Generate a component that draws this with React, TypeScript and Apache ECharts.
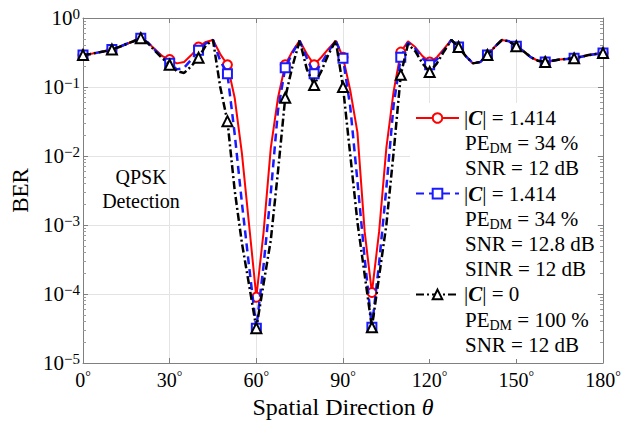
import React, { useEffect, useRef } from 'react';
import * as echarts from 'echarts';

// Spatial direction (degrees); markers drawn every 10 degrees
const angles = [
  0, 2.5, 5, 7.5, 10, 12.5, 15, 17.5, 20, 22.5, 25, 27.5, 30, 32.5, 35, 37.5, 40, 42.5, 45, 47.5,
  50, 52.5, 55, 57.5, 60, 62.5, 65, 67.5, 70, 72.5, 75, 77.5, 80, 82.5, 85, 87.5, 90, 92.5, 95, 97.5,
  100, 102.5, 105, 107.5, 110, 112.5, 115, 117.5, 120, 122.5, 125, 127.5, 130, 132.5, 135, 137.5,
  140, 142.5, 145, 147.5, 150, 152.5, 155, 157.5, 160, 162.5, 165, 167.5, 170, 172.5, 175, 177.5, 180,
];

// |C| = 1.414, PE_DM = 34 %, SNR = 12 dB
const berC1414 = [
  0.29, 0.3, 0.315, 0.33, 0.35, 0.38, 0.42, 0.46, 0.51, 0.44, 0.35, 0.28, 0.25, 0.22, 0.23, 0.29, 0.38, 0.45, 0.48, 0.3,
  0.21, 0.07, 0.011, 0.001, 0.00009, 0.00078, 0.013, 0.07, 0.21, 0.33, 0.47, 0.3, 0.21, 0.27, 0.36, 0.47, 0.27, 0.09, 0.022, 0.0008,
  0.000105, 0.0008, 0.013, 0.085, 0.32, 0.46, 0.38, 0.28, 0.23, 0.27, 0.36, 0.48, 0.38, 0.28, 0.22, 0.23,
  0.29, 0.38, 0.48, 0.46, 0.39, 0.33, 0.27, 0.24, 0.23, 0.24, 0.25, 0.255, 0.26, 0.275, 0.29, 0.3, 0.31,
];

// |C| = 1.414, PE_DM = 34 %, SNR = 12.8 dB, SINR = 12 dB
const berC1414Sinr = [
  0.29, 0.3, 0.315, 0.33, 0.35, 0.38, 0.42, 0.46, 0.51, 0.44, 0.34, 0.27, 0.22, 0.18, 0.19, 0.25, 0.34, 0.43, 0.48, 0.24,
  0.155, 0.021, 0.0021, 0.00025, 0.000032, 0.00026, 0.0029, 0.046, 0.19, 0.31, 0.47, 0.26, 0.155, 0.22, 0.33, 0.47, 0.26, 0.052, 0.0043, 0.00033,
  0.000033, 0.00028, 0.0034, 0.054, 0.27, 0.44, 0.36, 0.26, 0.21, 0.25, 0.34, 0.48, 0.38, 0.28, 0.22, 0.23,
  0.29, 0.38, 0.48, 0.46, 0.39, 0.33, 0.27, 0.24, 0.23, 0.24, 0.25, 0.255, 0.26, 0.275, 0.29, 0.3, 0.31,
];

// |C| = 0, PE_DM = 100 %, SNR = 12 dB
const berC0 = [
  0.29, 0.3, 0.315, 0.33, 0.35, 0.38, 0.42, 0.46, 0.51, 0.43, 0.33, 0.26, 0.21, 0.17, 0.16, 0.2, 0.265, 0.4, 0.48, 0.1,
  0.032, 0.0032, 0.00055, 0.000135, 0.000032, 0.00014, 0.0006, 0.006, 0.07, 0.2, 0.47, 0.18, 0.107, 0.17, 0.3, 0.47, 0.1, 0.0105, 0.0011, 0.00019,
  0.000033, 0.00018, 0.001, 0.011, 0.15, 0.42, 0.33, 0.22, 0.165, 0.22, 0.33, 0.48, 0.38, 0.28, 0.22, 0.23,
  0.29, 0.38, 0.48, 0.46, 0.39, 0.33, 0.27, 0.24, 0.23, 0.24, 0.25, 0.255, 0.26, 0.275, 0.29, 0.3, 0.31,
];

const xTickStep = 30;
const yDecades = [1e-5, 1e-4, 1e-3, 1e-2, 1e-1, 1];
const minorMultipliers = [2, 3, 4, 5, 6, 7, 8, 9];

const legendFirstLines: Record<string, string> = {
  s1: '{n||}{c|C}{n||} = 1.414',
  s2: '{n||}{c|C}{n||} = 1.414',
  s3: '{n||}{c|C}{n||} = 0',
};
const legendExtraLines = [
  ['{n|PE}{d|DM}{n| = 34 %}', '{n|SNR = 12 dB}'],
  ['{n|PE}{d|DM}{n| = 34 %}', '{n|SNR = 12.8 dB}', '{n|SINR = 12 dB}'],
  ['{n|PE}{d|DM}{n| = 100 %}', '{n|SNR = 12 dB}'],
];

const FONT = '"Liberation Serif", "Times New Roman", serif';

function makeData(vals: number[]) {
  return angles.map((a, i) =>
    a % 10 === 0 ? { value: [a, vals[i]] } : { value: [a, vals[i]], symbol: 'none' }
  );
}

const supLabel = (v: number) => {
  const e = Math.round(Math.log10(v));
  return `{b|10}{s|${e === 0 ? '0' : '\u2212' + Math.abs(e)}}`;
};

export default function App() {
  const ref = useRef<HTMLDivElement>(null);
  useEffect(() => {
    if (!ref.current) return;
    const chart = echarts.init(ref.current, undefined, { renderer: 'svg' });

    const minorVals: number[] = [];
    yDecades.slice(0, -1).forEach((d) => minorMultipliers.forEach((m) => minorVals.push(d * m)));

    const lineRich = {
      n: { fontFamily: FONT, fontSize: 21, color: '#000', lineHeight: 25 },
      c: { fontFamily: FONT, fontSize: 21, color: '#000', fontStyle: 'italic', fontWeight: 'bold', lineHeight: 25 },
      d: { fontFamily: FONT, fontSize: 14, color: '#000', lineHeight: 14, verticalAlign: 'bottom' },
    };

    const legendBase = {
      orient: 'vertical',
      left: 415,
      padding: 0,
      itemWidth: 43,
      itemHeight: 12,
      selectedMode: false,
      formatter: (name: string) => legendFirstLines[name],
      textStyle: { fontFamily: FONT, fontSize: 21, color: '#000', lineHeight: 25, rich: lineRich },
    };
    const firstLineY = [118, 193.6, 294.4];
    const L = 25.2;

    const graphics: any[] = [
      { type: 'rect', shape: { x: 410, y: 103, width: 187, height: 256 }, style: { fill: '#fff' }, z: 1, silent: true },
      {
        type: 'text', x: 141, y: 177, z: 5,
        style: { text: 'QPSK', font: `20px ${FONT}`, fill: '#000', align: 'center', verticalAlign: 'middle' },
      },
      {
        type: 'text', x: 141, y: 201, z: 5,
        style: { text: 'Detection', font: `20px ${FONT}`, fill: '#000', align: 'center', verticalAlign: 'middle' },
      },
    ];
    legendExtraLines.forEach((lines, i) => {
      lines.forEach((t, j) => {
        graphics.push({
          type: 'text', x: 465, y: firstLineY[i] + (j + 1) * L, z: 5,
          style: { text: t, rich: lineRich, font: `21px ${FONT}`, fill: '#000', align: 'left', verticalAlign: 'middle' },
        });
      });
    });

    const axisGray = '#808080';
    const yCommon = { type: 'log', logBase: 10, min: 1e-5, max: 1 };

    chart.setOption({
      animation: false,
      backgroundColor: '#fff',
      grid: { left: 83, right: 38, top: 18, bottom: 61, containLabel: false },
      legend: firstLineY.map((y, i) => ({ ...legendBase, top: y - 12.5, data: ['s' + (i + 1)] })),
      graphic: graphics,
      xAxis: [
        {
          type: 'value', min: 0, max: 180, interval: xTickStep, position: 'bottom',
          axisLine: { show: true, lineStyle: { color: axisGray, width: 1 } },
          axisTick: { show: true, inside: true, length: 5, lineStyle: { color: axisGray } },
          axisLabel: {
            formatter: (v: number) => `{n|${v}}{o|°}`, margin: 6,
            rich: {
              n: { fontFamily: FONT, fontSize: 20, color: '#000', lineHeight: 22 },
              o: { fontFamily: FONT, fontSize: 14, color: '#000', lineHeight: 14, verticalAlign: 'top' },
            },
          },
          splitLine: { show: true, lineStyle: { color: '#e4e4e4', width: 1 } },
          name: '{n|Spatial Direction }{t|θ}',
          nameLocation: 'middle',
          nameGap: 30,
          nameTextStyle: {
            rich: {
              n: { fontFamily: FONT, fontSize: 24, color: '#000' },
              t: { fontFamily: FONT, fontSize: 24, color: '#000', fontStyle: 'italic' },
            },
          },
        },
        {
          type: 'value', min: 0, max: 180, interval: xTickStep, position: 'top',
          axisLine: { show: true, lineStyle: { color: axisGray, width: 1 } },
          axisTick: { show: true, inside: true, length: 5, lineStyle: { color: axisGray } },
          axisLabel: { show: false },
          splitLine: { show: false },
        },
      ],
      yAxis: [
        {
          ...yCommon, position: 'left',
          axisLine: { show: true, lineStyle: { color: axisGray, width: 1 } },
          axisTick: { show: true, inside: true, length: 5, lineStyle: { color: axisGray } },
          axisLabel: {
            formatter: supLabel, margin: 3, color: '#000',
            rich: {
              b: { fontFamily: FONT, fontSize: 21, color: '#000', lineHeight: 24 },
              s: { fontFamily: FONT, fontSize: 15, color: '#000', lineHeight: 11, verticalAlign: 'top' },
            },
          },
          splitLine: { show: true, lineStyle: { color: '#e4e4e4', width: 1 } },
          name: 'BER',
          nameLocation: 'middle',
          nameGap: 48,
          nameTextStyle: { fontFamily: FONT, fontSize: 23, color: '#000' },
        },
        {
          ...yCommon, position: 'left',
          axisLine: { show: false },
          axisTick: { show: true, inside: true, length: 3, customValues: minorVals, lineStyle: { color: '#9a9a9a' } },
          axisLabel: { show: false },
          splitLine: { show: false },
        },
        {
          ...yCommon, position: 'right',
          axisLine: { show: true, lineStyle: { color: axisGray, width: 1 } },
          axisTick: { show: true, inside: true, length: 5, lineStyle: { color: axisGray } },
          axisLabel: { show: false },
          splitLine: { show: false },
        },
        {
          ...yCommon, position: 'right',
          axisLine: { show: false },
          axisTick: { show: true, inside: true, length: 3, customValues: minorVals, lineStyle: { color: '#9a9a9a' } },
          axisLabel: { show: false },
          splitLine: { show: false },
        },
      ],
      series: [
        {
          name: 's1', type: 'line', data: makeData(berC1414),
          symbol: 'emptyCircle', symbolSize: 9,
          lineStyle: { color: '#ff0000', width: 2, type: 'solid' },
          itemStyle: { color: '#ff0000', borderWidth: 1.5 },
          z: 2,
        },
        {
          name: 's2', type: 'line', data: makeData(berC1414Sinr),
          symbol: 'emptyRect', symbolSize: 9,
          lineStyle: { color: '#1a1aff', width: 2.5, type: [8, 5] },
          itemStyle: { color: '#1a1aff', borderWidth: 1.5 },
          z: 3,
        },
        {
          name: 's3', type: 'line', data: makeData(berC0),
          symbol: 'emptyTriangle', symbolSize: 10,
          lineStyle: { color: '#000', width: 2.5, type: [8, 3, 2, 3] },
          itemStyle: { color: '#000', borderWidth: 1.8 },
          z: 4,
        },
      ],
    });
    return () => chart.dispose();
  }, []);
  return <div ref={ref} style={{ position: 'absolute', left: 0, top: 0, width: 641, height: 424 }} />;
}
